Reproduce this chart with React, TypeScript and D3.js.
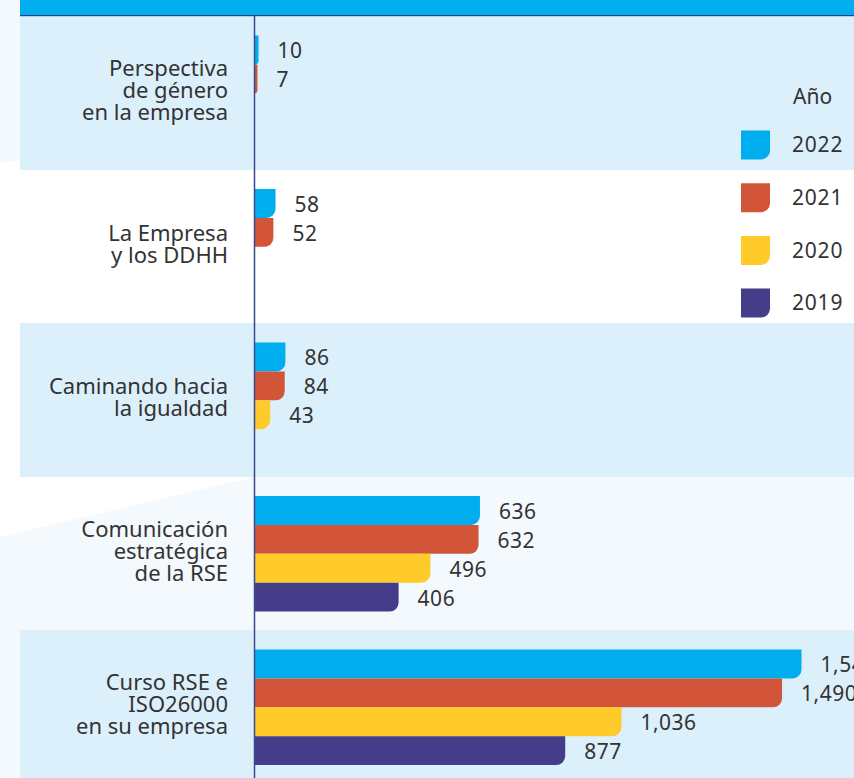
import React from 'react'
import * as d3 from 'd3'

// categories (top to bottom) and their wrapped label lines
const categories = ['perspectiva', 'ddhh', 'igualdad', 'comunicacion', 'curso']
const categoryLines = [
  ['Perspectiva', 'de género', 'en la empresa'],
  ['La Empresa', 'y los DDHH'],
  ['Caminando hacia', 'la igualdad'],
  ['Comunicación', 'estratégica', 'de la RSE'],
  ['Curso RSE e', 'ISO26000', 'en su empresa']
]

const years = ['2022', '2021', '2020', '2019']
const values2022 = [10, 58, 86, 636, 1545]
const values2021 = [7, 52, 84, 632, 1490]
const values2020 = [null, null, 43, 496, 1036]
const values2019 = [null, null, null, 406, 877]
const seriesValues = [values2022, values2021, values2020, values2019]
const yearColors = ['#00aeef', '#d2553a', '#ffcb2b', '#463d8a']

const W = 854
const H = 778
const FONT = '"Noto Sans", sans-serif'
const TEXT = '#333333'

// rect with the bottom-right corner rounded, like the original marks
const barPath = (x0: number, x1: number, y0: number, y1: number, r: number) => {
  const rr = Math.max(0, Math.min(r, x1 - x0, (y1 - y0) / 2))
  return `M${x0},${y0}H${x1}V${y1 - rr}A${rr},${rr} 0 0 1 ${x1 - rr},${y1}H${x0}Z`
}

export default function App() {
  const bandH = 153.5
  const y = d3
    .scaleBand<string>()
    .domain(categories)
    .range([16, 16 + bandH * categories.length])

  const inner = d3
    .scaleBand<string>()
    .domain(years)
    .range([19.5, 19.5 + 4 * 28.9])

  const x = d3.scaleLinear().domain([0, 1545]).range([255, 801.5])
  const fmt = d3.format(',')

  const legendY = d3
    .scalePoint<string>()
    .domain(years)
    .range([145, 145 + 3 * 52.7])

  return (
    <svg
      width={W}
      height={H}
      style={{ position: 'absolute', left: 0, top: 0, display: 'block' }}
      fontFamily={FONT}
    >
      <rect width={W} height={H} fill="#ffffff" />
      {/* pale decorative shapes behind the rows */}
      <path d="M0,0H20V160L0,163Z" fill="#f3f9fd" />
      <path d={`M0,537L254,477H${W}V${H}H0Z`} fill="#f3f9fd" />

      {/* alternating row bands */}
      {categories.map((c, i) =>
        i % 2 === 0 ? (
          <rect
            key={c}
            x={20}
            y={y(c)}
            width={W - 20}
            height={y.bandwidth() + 0.5}
            fill="#dcf0fb"
          />
        ) : null
      )}

      {/* header strip */}
      <rect x={20} y={0} width={W - 20} height={15} fill="#00aeef" />
      <rect x={20} y={15} width={W - 20} height={1.2} fill="#2e3a87" />

      {/* bars */}
      {categories.map((c, i) =>
        years.map((yr, s) => {
          const v = seriesValues[s][i]
          if (v == null) return null
          const y0 = (y(c) as number) + (inner(yr) as number)
          const y1 = y0 + inner.bandwidth()
          return (
            <g key={c + yr}>
              <path d={barPath(x(0), x(v), y0, y1, 9)} fill={yearColors[s]} />
              <text
                x={x(v) + 19}
                y={(y0 + y1) / 2 + 1}
                dy="0.35em"
                fontSize={21}
                letterSpacing={0.5}
                fill={TEXT}
              >
                {fmt(v)}
              </text>
            </g>
          )
        })
      )}

      {/* axis line */}
      <line x1={254.5} x2={254.5} y1={16} y2={H} stroke="#3a4890" strokeWidth={1.5} />

      {/* category labels */}
      {categories.map((c, i) => {
        const lines = categoryLines[i]
        const cy = (y(c) as number) + y.bandwidth() / 2 - 2
        const lh = 22
        return (
          <text key={c} textAnchor="end" fontSize={22} fill={TEXT}>
            {lines.map((l, k) => (
              <tspan key={k} x={228} y={cy + (k - (lines.length - 1) / 2) * lh} dy="0.35em">
                {l}
              </tspan>
            ))}
          </text>
        )
      })}

      {/* legend */}
      <text x={793} y={97} dy="0.35em" fontSize={21} fill={TEXT}>
        Año
      </text>
      {years.map((yr, s) => {
        const cy = legendY(yr) as number
        return (
          <g key={yr}>
            <path d={barPath(741, 770, cy - 14.5, cy + 14.5, 9)} fill={yearColors[s]} />
            <text x={792} y={cy} dy="0.35em" fontSize={21} letterSpacing={0.8} fill={TEXT}>
              {yr}
            </text>
          </g>
        )
      })}
    </svg>
  )
}
